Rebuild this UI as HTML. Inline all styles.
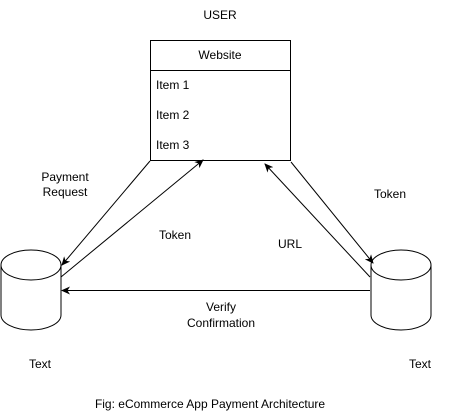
<!DOCTYPE html>
<html><head><meta charset="utf-8"><style>
html,body{margin:0;padding:0;background:#fff;}
svg{display:block;}
text{font-family:"Liberation Sans",Arial,sans-serif;font-size:12px;fill:#000;}
</style></head><body>
<svg width="451" height="420" viewBox="0 0 451 420" xmlns="http://www.w3.org/2000/svg">
<defs>
<marker id="a" markerWidth="10" markerHeight="8" refX="8" refY="4" orient="auto" markerUnits="userSpaceOnUse">
<path d="M0,0 L9,4 L0,8 L2.5,4 Z" fill="#000"/>
</marker>
</defs>
<text x="220" y="19" text-anchor="middle">USER</text>
<rect x="150.5" y="40.5" width="140" height="120" fill="#fff" stroke="#000"/>
<line x1="150.5" y1="70.5" x2="290.5" y2="70.5" stroke="#000"/>
<text x="220" y="59" text-anchor="middle">Website</text>
<text x="156" y="89">Item 1</text>
<text x="156" y="119">Item 2</text>
<text x="156" y="149">Item 3</text>

<g fill="#fff" stroke="#000" stroke-width="1">
<path d="M1,265 L1,315 A30,15 0 0 0 61,315 L61,265"/>
<ellipse cx="31" cy="265" rx="30" ry="15"/>
<path d="M371,265 L371,315 A30,15 0 0 0 431,315 L431,265"/>
<ellipse cx="401" cy="265" rx="30" ry="15"/>
</g>

<g stroke="#000" fill="none">
<line x1="150" y1="161" x2="62" y2="265" marker-end="url(#a)"/>
<line x1="61" y1="277" x2="203" y2="160" marker-end="url(#a)"/>
<line x1="291" y1="162" x2="373" y2="263" marker-end="url(#a)"/>
<line x1="370" y1="277" x2="265" y2="164" marker-end="url(#a)"/>
<line x1="370" y1="290.5" x2="62" y2="290.5" marker-end="url(#a)"/>
</g>

<text x="65" y="181" text-anchor="middle">Payment</text>
<text x="65" y="196" text-anchor="middle">Request</text>
<text x="175" y="239" text-anchor="middle">Token</text>
<text x="290" y="248" text-anchor="middle">URL</text>
<text x="390" y="198" text-anchor="middle">Token</text>
<text x="221" y="311" text-anchor="middle">Verify</text>
<text x="221" y="327" text-anchor="middle">Confirmation</text>
<text x="40" y="368" text-anchor="middle">Text</text>
<text x="420" y="368" text-anchor="middle">Text</text>
<text x="210" y="408" text-anchor="middle">Fig: eCommerce App Payment Architecture</text>
</svg>
</body></html>
